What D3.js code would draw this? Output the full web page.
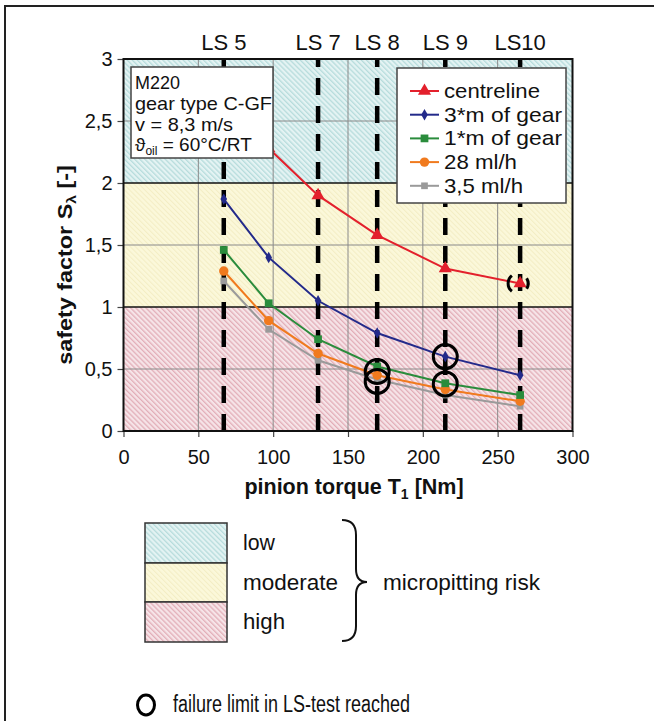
<!DOCTYPE html>
<html><head><meta charset="utf-8">
<script src="https://cdn.jsdelivr.net/npm/d3@7"></script>
<style>
body{margin:0;background:#fff}
svg{display:block}
text{font-family:"Liberation Sans",Arial,sans-serif;fill:#111}
</style>
</head><body>
<svg id="c" width="654" height="721"></svg>
<script>
// ---------------- data ----------------
const loadStages = ["LS 5","LS 6","LS 7","LS 8","LS 9","LS10"];
const torque = [67, 97, 130, 169.5, 215, 265];
const labelledStages = ["LS 5","LS 7","LS 8","LS 9","LS10"];

const seriesNames = ["centreline","3*m of gear","1*m of gear","28 ml/h","3,5 ml/h"];
const centreline = [2.85, 2.28, 1.90, 1.58, 1.31, 1.19];
const gear3m     = [1.87, 1.40, 1.05, 0.79, 0.60, 0.45];
const gear1m     = [1.46, 1.03, 0.74, 0.52, 0.385, 0.29];
const oil28      = [1.29, 0.89, 0.625, 0.45, 0.335, 0.24];
const oil35      = [1.21, 0.82, 0.57, 0.415, 0.29, 0.20];

const failureStage = ["LS 8","LS 8","LS 9","LS 9"];
const failureValue = [0.48, 0.40, 0.60, 0.38];
const partialFailureStage = ["LS10"];
const partialFailureValue = [1.19];

const riskLabels = ["low","moderate","high"];
const riskFrom = [2, 1, 0];
const riskTo   = [3, 2, 1];

const xTicks = [0,50,100,150,200,250,300];
const yTicks = [0,0.5,1,1.5,2,2.5,3];

const infoLines = ["M220","gear type C-GF","v = 8,3 m/s"];

// ---------------- setup ----------------
const svg = d3.select("#c");
const x = d3.scaleLinear().domain([0,300]).range([123.5,572.5]);
const y = d3.scaleLinear().domain([0,3]).range([431,59]);
const stageX = s => x(torque[loadStages.indexOf(s)]);

const defs = svg.append("defs");
function hatch(id, base, stripe, w){
  const p = defs.append("pattern").attr("id",id)
    .attr("patternUnits","userSpaceOnUse").attr("width",3.6).attr("height",3.6)
    .attr("patternTransform","rotate(-45)");
  p.append("rect").attr("width",3.6).attr("height",3.6).attr("fill",base);
  p.append("rect").attr("width",w).attr("height",3.6).attr("fill",stripe);
}
hatch("hLow","#e4f3f3","#b6dcdc",1.3);
hatch("hMod","#fbf8da","#f3edc4",1.0);
hatch("hHigh","#f6e4e8","#e2aeb8",1.3);
const riskFill = ["url(#hLow)","url(#hMod)","url(#hHigh)"];

// outer frame
svg.append("path").attr("d","M5,721 L5,6 L654,6").attr("fill","none").attr("stroke","#222").attr("stroke-width",2);

// risk bands
svg.append("g").selectAll("rect").data(riskLabels).join("rect")
  .attr("x",x(0)).attr("width",x(300)-x(0))
  .attr("y",(d,i)=>y(riskTo[i])).attr("height",(d,i)=>y(riskFrom[i])-y(riskTo[i]))
  .attr("fill",(d,i)=>riskFill[i]);

// grid
const grid = svg.append("g");
grid.selectAll("line.vx").data(xTicks.slice(1,-1)).join("line")
  .attr("x1",d=>x(d)).attr("x2",d=>x(d)).attr("y1",y(0)).attr("y2",y(3))
  .attr("stroke","#8a8a8a").attr("stroke-width",1);
grid.selectAll("line.hy").data(yTicks.slice(1,-1)).join("line")
  .attr("x1",x(0)).attr("x2",x(300)).attr("y1",d=>y(d)).attr("y2",d=>y(d))
  .attr("stroke",d=>(d===1||d===2)?"#111":"#8a8a8a").attr("stroke-width",d=>(d===1||d===2)?1.6:1);

// axes
const yAxis = svg.append("g").attr("transform",`translate(${x(0)},0)`)
  .call(d3.axisLeft(y).tickValues(yTicks).tickSize(6).tickPadding(5)
    .tickFormat(d=>String(d).replace(".",",")));
const xAxis = svg.append("g").attr("transform",`translate(0,${y(0)})`)
  .call(d3.axisBottom(x).tickValues(xTicks).tickSize(6).tickPadding(13));
[yAxis,xAxis].forEach(a=>{
  a.select(".domain").remove();
  a.selectAll(".tick line").attr("stroke","#444").attr("stroke-width",1.2);
  a.selectAll(".tick text").attr("font-size",20).attr("fill","#111")
   .attr("font-family",'"Liberation Sans",Arial,sans-serif');
});

// vertical dashed LS lines
svg.append("g").selectAll("line").data(labelledStages).join("line")
  .attr("x1",d=>stageX(d)).attr("x2",d=>stageX(d)).attr("y1",y(0)).attr("y2",y(3))
  .attr("stroke","#000").attr("stroke-width",4.5).attr("stroke-dasharray","17,11");

svg.append("g").selectAll("text").data(labelledStages).join("text")
  .attr("x",d=>stageX(d)).attr("y",50).attr("text-anchor","middle")
  .attr("font-size",22).text(d=>d);

// series
const seriesVals = [centreline,gear3m,gear1m,oil28,oil35];
const colors = ["#e3202c","#232a8a","#2a8c3c","#f07a1e","#9a9a9a"];
const symbols = [d3.symbolTriangle,d3.symbolDiamond,d3.symbolSquare,d3.symbolCircle,d3.symbolSquare];
const symSize = [75,38,60,70,45];
const line = d3.line().x((d,i)=>x(torque[i])).y(d=>y(d));
const sg = svg.append("g");
[4,3,2,1,0].forEach(k=>{
  sg.append("path").attr("d",line(seriesVals[k])).attr("fill","none")
    .attr("stroke",colors[k]).attr("stroke-width",2);
  sg.append("g").selectAll("path").data(seriesVals[k]).join("path")
    .attr("transform",(d,i)=>`translate(${x(torque[i])},${y(d)})`)
    .attr("d",d3.symbol(symbols[k]).size(symSize[k])).attr("fill",colors[k]);
});

// failure circles
svg.append("g").selectAll("circle").data(failureValue).join("circle")
  .attr("cx",(d,i)=>stageX(failureStage[i])).attr("cy",d=>y(d)).attr("r",12)
  .attr("fill","none").attr("stroke","#000").attr("stroke-width",3);
partialFailureStage.forEach((s,i)=>{
  const cx = stageX(s)-2, cy = y(partialFailureValue[i]), r = 10;
  const p1 = d3.path(); p1.arc(cx,cy,r,-0.55,0.55);
  const p2 = d3.path(); p2.arc(cx,cy,r,Math.PI-0.9,Math.PI+0.9);
  [p1,p2].forEach(p=>svg.append("path").attr("d",p.toString()).attr("fill","none")
    .attr("stroke","#000").attr("stroke-width",3));
});

// plot border
svg.append("rect").attr("x",x(0)).attr("y",y(3)).attr("width",x(300)-x(0)).attr("height",y(0)-y(3))
  .attr("fill","none").attr("stroke","#111").attr("stroke-width",2);

// info box
svg.append("rect").attr("x",131).attr("y",67).attr("width",142).attr("height",91)
  .attr("fill","#fff").attr("stroke","#444").attr("stroke-width",1.5);
const infoW = [45,137,98];
svg.append("g").selectAll("text").data(infoLines).join("text")
  .attr("x",135).attr("y",(d,i)=>88.5+i*21.2).attr("font-size",19)
  .attr("textLength",(d,i)=>infoW[i]).attr("lengthAdjust","spacingAndGlyphs").text(d=>d);
const t4 = svg.append("text").attr("x",135).attr("y",151).attr("font-size",19);
t4.append("tspan").text("\u03D1");
t4.append("tspan").attr("font-size",12).attr("dy",4).text("oil");
t4.append("tspan").attr("dy",-4).text(" = 60\u00B0C/RT");

// legend
svg.append("rect").attr("x",397).attr("y",68).attr("width",169).attr("height",135)
  .attr("fill","#fff").attr("stroke","#444").attr("stroke-width",1.5);
const lg = svg.append("g").selectAll("g").data(seriesNames).join("g")
  .attr("transform",(d,i)=>`translate(0,${91+i*23.7})`);
lg.append("line").attr("x1",410).attr("x2",439).attr("stroke",(d,i)=>colors[i]).attr("stroke-width",2);
lg.append("path").attr("transform","translate(424.5,0)")
  .attr("d",(d,i)=>d3.symbol(symbols[i]).size(symSize[i])()).attr("fill",(d,i)=>colors[i]);
const legW = [96,118,118,73,79];
lg.append("text").attr("x",444).attr("y",7).attr("font-size",21)
  .attr("textLength",(d,i)=>legW[i]).attr("lengthAdjust","spacingAndGlyphs").text(d=>d);

// axis titles
const xt = svg.append("text").attr("x",354).attr("y",494).attr("text-anchor","middle")
  .attr("font-size",21.5).attr("font-weight","bold");
xt.append("tspan").text("pinion torque T");
xt.append("tspan").attr("font-size",14).attr("dy",5).text("1");
xt.append("tspan").attr("dy",-5).text(" [Nm]");

const yt = svg.append("text").attr("transform","translate(72,265) rotate(-90) scale(1.2,1)")
  .attr("text-anchor","middle").attr("font-size",19.5).attr("font-weight","bold");
yt.append("tspan").text("safety factor S");
yt.append("tspan").attr("font-size",13).attr("dy",4).text("\u03BB");
yt.append("tspan").attr("dy",-4).text(" [-]");

// risk legend
const swY = [523,563,602,642];
svg.append("g").selectAll("rect").data(riskLabels).join("rect")
  .attr("x",145).attr("width",82).attr("y",(d,i)=>swY[i]).attr("height",(d,i)=>swY[i+1]-swY[i])
  .attr("fill",(d,i)=>riskFill[i]).attr("stroke","#333").attr("stroke-width",1.5);
const riskW = [32,95,42];
svg.append("g").selectAll("text").data(riskLabels).join("text")
  .attr("x",243).attr("y",(d,i)=>550+i*39.5).attr("font-size",22)
  .attr("textLength",(d,i)=>riskW[i]).attr("lengthAdjust","spacingAndGlyphs").text(d=>d);
svg.append("path")
  .attr("d","M342,520 Q356,520 356,535 L356,569 Q356,582 367,582 Q356,582 356,595 L356,626 Q356,641 342,641")
  .attr("fill","none").attr("stroke","#111").attr("stroke-width",2);
svg.append("text").attr("x",383).attr("y",590).attr("font-size",22)
  .attr("textLength",157).attr("lengthAdjust","spacingAndGlyphs").text("micropitting risk");

// failure legend
svg.append("ellipse").attr("cx",146).attr("cy",705).attr("rx",8.5).attr("ry",10)
  .attr("fill","none").attr("stroke","#000").attr("stroke-width",3);
svg.append("text").attr("x",173).attr("y",712).attr("font-size",23)
  .attr("textLength",237).attr("lengthAdjust","spacingAndGlyphs").text("failure limit in LS-test reached");
</script>
</body></html>
